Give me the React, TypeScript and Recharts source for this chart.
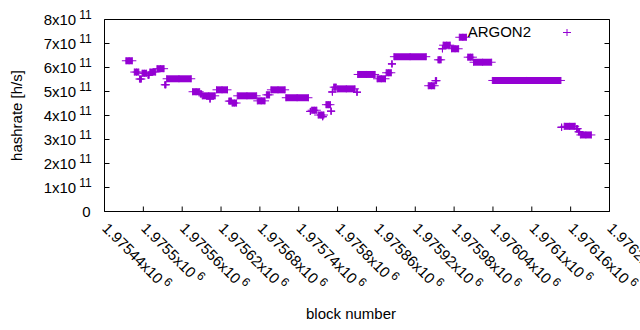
import React from 'react';
import { ScatterChart, Scatter, XAxis, YAxis, ErrorBar, Legend } from 'recharts';

const PURPLE = '#9400d3';
const FONT = '"Liberation Sans", Arial, sans-serif';

// runs of consecutive blocks that report the same hashrate (x10^11 h/s)
const segStart = [
  1975473, 1975486, 1975494, 1975498, 1975507, 1975510, 1975521, 1975533, 1975536, 1975576,
  1975588, 1975591, 1975603, 1975613, 1975632, 1975637, 1975645, 1975676, 1975690, 1975697,
  1975720, 1975758, 1975760, 1975770, 1975777, 1975782, 1975790, 1975792, 1975794, 1975800,
  1975830, 1975831, 1975861, 1975875, 1975884, 1975887, 1975940, 1975951, 1975955, 1975962,
  1975963, 1975976, 1975988, 1976001, 1976010, 1976039, 1976146, 1976150, 1976169, 1976172,
  1976175,
];
const segEnd = [
  1975483, 1975493, 1975497, 1975505, 1975509, 1975519, 1975532, 1975535, 1975574, 1975587,
  1975590, 1975611, 1975603, 1975630, 1975636, 1975644, 1975675, 1975688, 1975695, 1975719,
  1975755, 1975758, 1975768, 1975779, 1975777, 1975789, 1975790, 1975792, 1975798, 1975827,
  1975830, 1975858, 1975874, 1975883, 1975884, 1975937, 1975950, 1975953, 1975960, 1975962,
  1975974, 1975987, 1975999, 1976009, 1976038, 1976145, 1976146, 1976167, 1976171, 1976174,
  1976192,
];
const segRate = [
  6.28, 5.81, 5.52, 5.76, 5.68, 5.81, 5.95, 5.28, 5.53, 4.99,
  4.9, 4.82, 4.69, 5.07, 4.6, 4.52, 4.82, 4.61, 4.86, 5.07,
  4.74, 4.17, 4.22, 4.02, 3.95, 4.45, 4.18, 4.98, 5.18, 5.11,
  4.97, 5.71, 5.53, 5.78, 6.15, 6.45, 5.24, 5.45, 6.32, 6.78,
  6.93, 6.78, 7.26, 6.43, 6.22, 5.46, 3.51, 3.55, 3.45, 3.32,
  3.19,
];

const xTicks = [
  1975440, 1975500, 1975560, 1975620, 1975680, 1975740, 1975800,
  1975860, 1975920, 1975980, 1976040, 1976100, 1976160, 1976220,
];
const xTickLabels = [
  '1.97544', '1.9755', '1.97556', '1.97562', '1.97568', '1.97574', '1.9758',
  '1.97586', '1.97592', '1.97598', '1.97604', '1.9761', '1.97616', '1.97622',
];
const yTicks = [0, 1e11, 2e11, 3e11, 4e11, 5e11, 6e11, 7e11, 8e11];
const yTickLabels = ['0', '1', '2', '3', '4', '5', '6', '7', '8'];

const runs = segStart.map((s, i) => ({
  block: (s + segEnd[i]) / 2,
  rate: segRate[i] * 1e11,
  half: (segEnd[i] - s) / 2,
}));
const ends = segStart.flatMap((s, i) => [
  { block: s, rate: segRate[i] * 1e11 },
  { block: segEnd[i], rate: segRate[i] * 1e11 },
]);

const Plus = (props: any) => {
  const { cx, cy } = props;
  if (cx == null || cy == null) return null;
  return (
    <path
      d={`M${cx - 4},${cy}H${cx + 4}M${cx},${cy - 3.5}V${cy + 3.5}`}
      stroke={PURPLE}
      strokeWidth={1}
      fill="none"
    />
  );
};

const BottomTick = (props: any) => {
  const { x, y, payload } = props;
  const label = xTickLabels[xTicks.indexOf(payload.value)];
  const bx = x - 3.2;
  const by = y + 17.7;
  return (
    <g>
      <path d={`M${x},${y}V${y - 5}`} stroke="#000" strokeWidth={1} />
      <text x={bx} y={by} transform={`rotate(45 ${bx} ${by})`} fontSize={15} fontFamily={FONT} fill="#000">
        {label}x10
        <tspan dx={3} dy={-6} fontSize={12}>6</tspan>
      </text>
    </g>
  );
};

const TopTick = (props: any) => {
  const { x, y } = props;
  return <path d={`M${x},${y}V${y + 5}`} stroke="#000" strokeWidth={1} />;
};

const LeftTick = (props: any) => {
  const { x, y, payload } = props;
  const label = yTickLabels[yTicks.indexOf(payload.value)];
  return (
    <g>
      <path d={`M${x},${y}H${x + 5}`} stroke="#000" strokeWidth={1} />
      {label === '0' ? (
        <text x={x - 14} y={y + 5.3} textAnchor="end" fontSize={15} fontFamily={FONT} fill="#000">0</text>
      ) : (
        <text x={x - 12.8} y={y + 5.3} textAnchor="end" fontSize={15} fontFamily={FONT} fill="#000">
          {label}x10
          <tspan dx={3} dy={-6} fontSize={12}>11</tspan>
        </text>
      )}
    </g>
  );
};

const RightTick = (props: any) => {
  const { x, y } = props;
  return <path d={`M${x},${y}H${x - 5}`} stroke="#000" strokeWidth={1} />;
};

const YTitle = (props: any) => {
  const vb = props.viewBox;
  const x = vb.x + 21.5;
  const y = vb.y + vb.height / 2;
  return (
    <text x={x} y={y} transform={`rotate(-90 ${x} ${y})`} textAnchor="middle" fontSize={15} fontFamily={FONT} fill="#000">
      hashrate [h/s]
    </text>
  );
};

const XTitle = (props: any) => {
  const vb = props.viewBox;
  return (
    <text x={vb.x + vb.width / 2 - 6} y={vb.y + 107.5} textAnchor="middle" fontSize={15} fontFamily={FONT} fill="#000">
      block number
    </text>
  );
};

const LegendBox = () => (
  <svg width={170} height={20} style={{ display: 'block' }}>
    <text x={111} y={15} textAnchor="end" fontSize={15} fontFamily={FONT} fill="#000">ARGON2</text>
    <path d="M143,10.5H151M147,7V14" stroke={PURPLE} strokeWidth={1} fill="none" />
  </svg>
);

export default function App() {
  return (
    <div style={{ position: 'absolute', left: 0, top: 0, background: '#fff' }}>
      <ScatterChart
        width={640}
        height={330}
        margin={{ top: 18.5, right: 29.5, bottom: 117.5, left: 0.5 }}
      >
        <XAxis
          xAxisId="bottom"
          dataKey="block"
          type="number"
          domain={[1975440, 1976220]}
          ticks={xTicks}
          interval={0}
          allowDataOverflow
          height={1}
          tickSize={0}
          tickMargin={0}
          tickLine={false}
          tick={<BottomTick />}
          stroke="#000"
          axisLine={{ stroke: '#000' }}
          label={(p: any) => <XTitle {...p} />}
        />
        <XAxis
          xAxisId="top"
          orientation="top"
          type="number"
          domain={[1975440, 1976220]}
          ticks={xTicks}
          interval={0}
          allowDataOverflow
          height={1}
          tickSize={0}
          tickMargin={0}
          tickLine={false}
          tick={<TopTick />}
          stroke="#000"
          axisLine={{ stroke: '#000' }}
        />
        <YAxis
          yAxisId="left"
          dataKey="rate"
          type="number"
          domain={[0, 8e11]}
          ticks={yTicks}
          interval={0}
          allowDataOverflow
          width={104}
          tickSize={0}
          tickMargin={0}
          tickLine={false}
          tick={<LeftTick />}
          stroke="#000"
          axisLine={{ stroke: '#000' }}
          label={(p: any) => <YTitle {...p} />}
        />
        <YAxis
          yAxisId="right"
          orientation="right"
          type="number"
          domain={[0, 8e11]}
          ticks={yTicks}
          interval={0}
          allowDataOverflow
          width={1}
          tickSize={0}
          tickMargin={0}
          tickLine={false}
          tick={<RightTick />}
          stroke="#000"
          axisLine={{ stroke: '#000' }}
        />
        <Legend
          layout="vertical"
          align="center"
          verticalAlign="middle"
          wrapperStyle={{ left: 420, top: 22, width: 170, height: 20 }}
          content={() => <LegendBox />}
        />
        <Scatter
          name="ARGON2"
          data={runs}
          xAxisId="bottom"
          yAxisId="left"
          fill={PURPLE}
          shape={(p: any) => <Plus {...p} />}
          isAnimationActive={false}
        >
          <ErrorBar
            dataKey="half"
            direction="x"
            width={0}
            stroke={PURPLE}
            strokeWidth={7}
            isAnimationActive={false}
          />
        </Scatter>
        <Scatter
          name="ends"
          data={ends}
          xAxisId="bottom"
          yAxisId="left"
          fill={PURPLE}
          shape={(p: any) => <Plus {...p} />}
          legendType="none"
          isAnimationActive={false}
        />
      </ScatterChart>
    </div>
  );
}
